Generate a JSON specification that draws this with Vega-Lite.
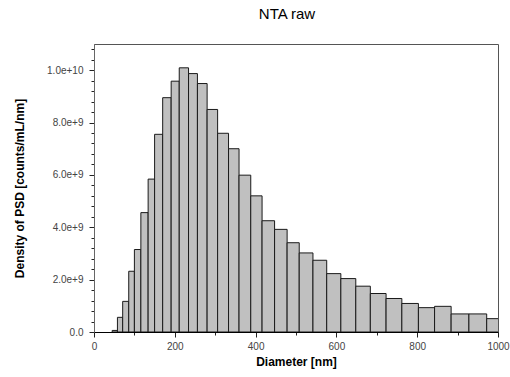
{
  "$schema": "https://vega.github.io/schema/vega-lite/v6.json",
  "width": 404,
  "height": 288,
  "autosize": {"type": "none"},
  "padding": {"left": 94, "top": 44, "right": 12, "bottom": 45},
  "background": "white",
  "title": {"text": "NTA raw", "fontSize": 15, "fontWeight": "normal", "font": "Liberation Sans", "color": "#000", "offset": 22, "dx": -9},
  "config": {
    "view": {"stroke": "#555", "strokeWidth": 1},
    "axis": {
      "grid": false,
      "labelFont": "Liberation Sans",
      "labelFontSize": 10,
      "labelColor": "#444",
      "titleFont": "Liberation Sans",
      "titleFontSize": 12,
      "titleFontWeight": "bold",
      "titleColor": "#000",
      "labelOverlap": false,
      "labelFlush": false,
      "tickColor": "#222",
      "tickWidth": 1
    }
  },
  "data": {
    "values": [
      {"start": 45, "end": 58, "density": 60000000},
      {"start": 58, "end": 71, "density": 560000000},
      {"start": 71, "end": 86, "density": 1170000000},
      {"start": 86, "end": 100, "density": 2320000000},
      {"start": 100, "end": 116, "density": 3150000000},
      {"start": 116, "end": 134, "density": 4560000000},
      {"start": 134, "end": 150, "density": 5840000000},
      {"start": 150, "end": 170, "density": 7550000000},
      {"start": 170, "end": 191, "density": 8950000000},
      {"start": 191, "end": 211, "density": 9580000000},
      {"start": 211, "end": 234, "density": 10090000000},
      {"start": 234, "end": 256, "density": 9870000000},
      {"start": 256, "end": 280, "density": 9490000000},
      {"start": 280, "end": 306, "density": 8500000000},
      {"start": 306, "end": 333, "density": 7590000000},
      {"start": 333, "end": 359, "density": 7000000000},
      {"start": 359, "end": 388, "density": 5990000000},
      {"start": 388, "end": 416, "density": 5200000000},
      {"start": 416, "end": 447, "density": 4250000000},
      {"start": 447, "end": 478, "density": 3920000000},
      {"start": 478, "end": 508, "density": 3410000000},
      {"start": 508, "end": 542, "density": 3020000000},
      {"start": 542, "end": 576, "density": 2740000000},
      {"start": 576, "end": 611, "density": 2230000000},
      {"start": 611, "end": 648, "density": 2040000000},
      {"start": 648, "end": 684, "density": 1750000000},
      {"start": 684, "end": 723, "density": 1470000000},
      {"start": 723, "end": 762, "density": 1280000000},
      {"start": 762, "end": 803, "density": 1090000000},
      {"start": 803, "end": 843, "density": 930000000},
      {"start": 843, "end": 884, "density": 980000000},
      {"start": 884, "end": 928, "density": 690000000},
      {"start": 928, "end": 972, "density": 690000000},
      {"start": 972, "end": 1018, "density": 510000000}
    ]
  },
  "mark": {"type": "rect", "fill": "#c0c0c0", "stroke": "#1a1a1a", "strokeWidth": 1, "clip": true},
  "encoding": {
    "x": {
      "field": "start",
      "type": "quantitative",
      "scale": {"domain": [0, 1000], "nice": false, "zero": true},
      "axis": {
        "title": "Diameter [nm]",
        "values": [0, 100, 200, 300, 400, 500, 600, 700, 800, 900, 1000],
        "labelExpr": "datum.value % 200 === 0 ? format(datum.value, 'd') : ''",
        "tickSize": {"condition": {"test": "datum.value % 200 === 0", "value": 5}, "value": 3},
        "domainColor": "#000",
        "labelPadding": 4,
        "titlePadding": 5
      }
    },
    "x2": {"field": "end"},
    "y": {
      "field": "density",
      "type": "quantitative",
      "scale": {"domain": [0, 11000000000], "nice": false},
      "axis": {
        "title": "Density of PSD [counts/mL/nm]",
        "values": [0, 400000000, 800000000, 1200000000, 1600000000, 2000000000, 2400000000, 2800000000, 3200000000, 3600000000, 4000000000, 4400000000, 4800000000, 5200000000, 5600000000, 6000000000, 6400000000, 6800000000, 7200000000, 7600000000, 8000000000, 8400000000, 8800000000, 9200000000, 9600000000, 10000000000, 10400000000, 10800000000],
        "labelExpr": "datum.value === 0 ? '0.0' : (datum.value % 2000000000 === 0 ? format(datum.value, '.1e') : '')",
        "tickSize": {"condition": {"test": "datum.value % 2000000000 === 0", "value": 5}, "value": 3},
        "domainColor": "#666",
        "labelPadding": 6,
        "titlePadding": 20
      }
    },
    "y2": {"datum": 0}
  }
}
